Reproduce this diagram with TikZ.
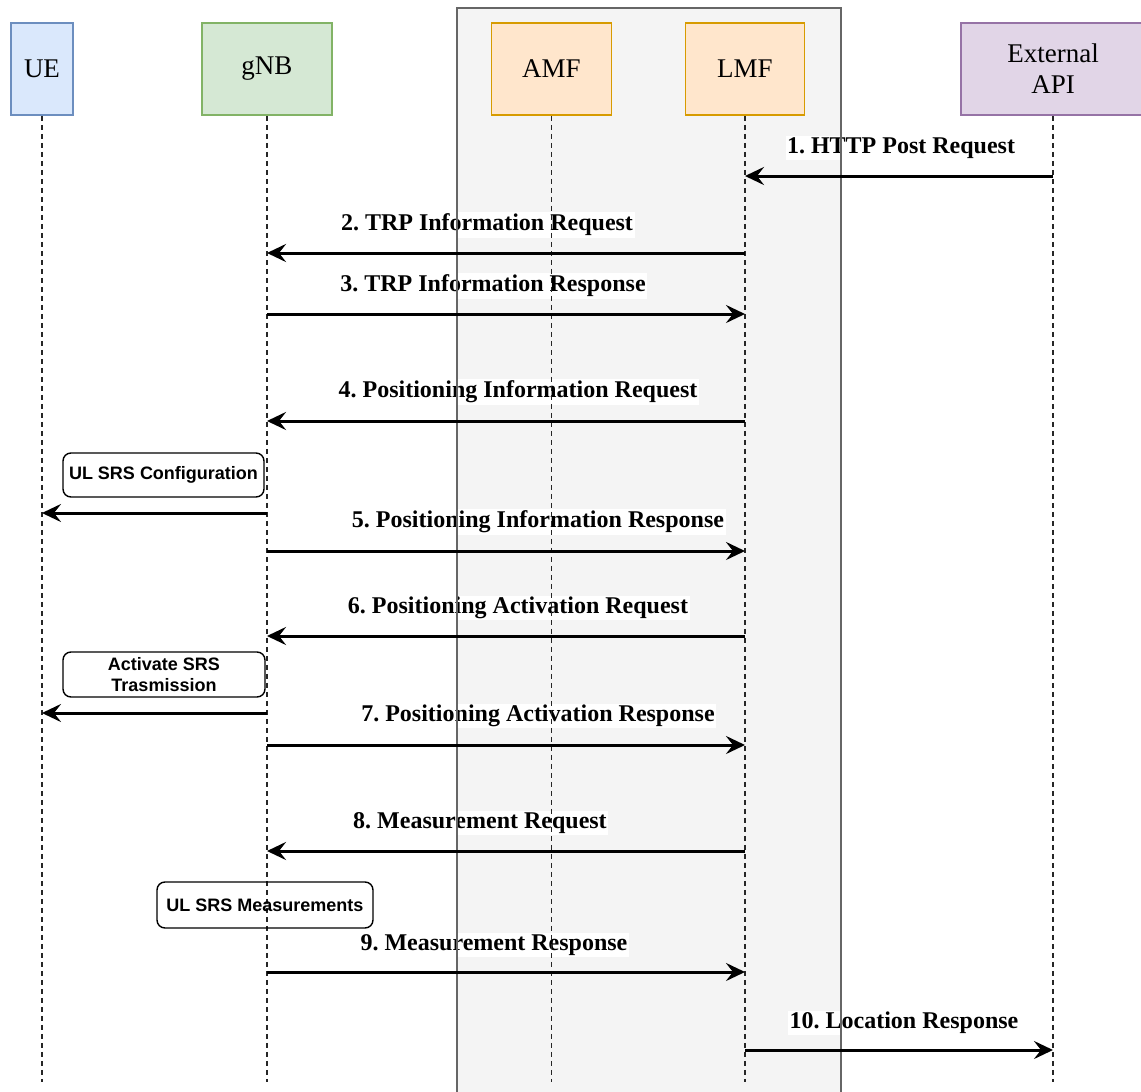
\documentclass[tikz,border=0pt]{standalone}
\usepackage{fontspec}
\setmainfont{Liberation Serif}
\newfontfamily\notefont{Liberation Sans}
\usetikzlibrary{arrows.meta}

\definecolor{uefill}{HTML}{DAE8FC}\definecolor{ueline}{HTML}{6C8EBF}
\definecolor{gnbfill}{HTML}{D5E8D4}\definecolor{gnbline}{HTML}{82B366}
\definecolor{corefill}{HTML}{FFE6CC}\definecolor{coreline}{HTML}{D79B00}
\definecolor{extfill}{HTML}{E1D5E7}\definecolor{extline}{HTML}{9673A6}
\definecolor{cloudfill}{HTML}{F4F4F4}\definecolor{cloudline}{HTML}{666666}

\tikzset{
  actor/.style={draw, line width=1.5pt, minimum height=92pt, inner sep=2pt,
    align=center, font=\fontsize{27}{31}\selectfont},
  lifeline/.style={line width=1.5pt, black!85, dash pattern=on 5pt off 4pt},
  msg/.style={line width=3pt, -{Stealth[length=19pt,width=18pt,inset=7pt]}},
  msglabel/.style={fill=white, inner sep=1.5pt, font=\bfseries\fontsize{24}{28}\selectfont},
  note/.style={draw, line width=1.4pt, rounded corners=8pt, align=center,
    inner sep=2pt, font=\notefont\bfseries\fontsize{18}{21}\selectfont}
}

\begin{document}
\frenchspacing
\begin{tikzpicture}[x=1pt,y=-1pt]
\useasboundingbox (0,0) rectangle (1141,1092);
\clip (0,0) rectangle (1141,1092);

% core network area
\fill[cloudfill] (457,8) rectangle (841,1100);

% participants
\node[actor, fill=uefill,   draw=ueline,   minimum width=62pt]  (ue)  at (42,69)   {UE};
\node[actor, fill=gnbfill,  draw=gnbline,  minimum width=130pt] (gnb) at (267,69)  {gNB};
\node[actor, fill=corefill, draw=coreline, minimum width=120pt] (amf) at (551.5,69) {AMF};
\node[actor, fill=corefill, draw=coreline, minimum width=119pt] (lmf) at (745,69)  {LMF};
\node[actor, fill=extfill,  draw=extline,  minimum width=184pt] (ext) at (1053,69) {External\\API};

% message labels
\node[msglabel] (t1)  at (901,148)  {1. HTTP Post Request};
\node[msglabel] (t2)  at (487,225)  {2. TRP Information Request};
\node[msglabel] (t3)  at (493,286)  {3. TRP Information Response};
\node[msglabel] (t4)  at (518,392)  {4. Positioning Information Request};
\node[msglabel] (t5)  at (538,522)  {5. Positioning Information Response};
\node[msglabel] (t6)  at (518,608)  {6. Positioning Activation Request};
\node[msglabel] (t7)  at (538,716)  {7. Positioning Activation Response};
\node[msglabel] (t8)  at (480,823)  {8. Measurement Request};
\node[msglabel] (t9)  at (494,945)  {9. Measurement Response};
\node[msglabel] (t10) at (904,1023) {10. Location Response};

% core network area border
\draw[cloudline, line width=1.5pt] (457,1100) -- (457,8) -- (841,8) -- (841,1100);

% lifelines
\coordinate (bottom) at (0,1082);
\foreach \p in {ue,gnb,amf,lmf,ext}
  \draw[lifeline] (\p.south) -- (\p.south |- bottom);

% notes on the gNB side
\node[note, minimum width=201pt, minimum height=44pt] (cfg)  at (163.5,475) {UL SRS Configuration};
\node[note, minimum width=202pt, minimum height=45pt] (act)  at (164,674.5) {Activate SRS\\Trasmission};
\node[note, minimum width=216pt, minimum height=46pt] (meas) at (265,905)   {UL SRS Measurements};

% message rows
\coordinate (y1) at (0,176);
\coordinate (y2) at (0,253);
\coordinate (y3) at (0,314);
\coordinate (y4) at (0,421);
\coordinate (ya) at (0,513);
\coordinate (y5) at (0,551);
\coordinate (y6) at (0,636);
\coordinate (yb) at (0,713);
\coordinate (y7) at (0,745);
\coordinate (y8) at (0,851);
\coordinate (y9) at (0,972);
\coordinate (y10) at (0,1050);

% messages
\draw[msg] (ext.south |- y1) -- (lmf.south |- y1);
\draw[msg] (lmf.south |- y2) -- (gnb.south |- y2);
\draw[msg] (gnb.south |- y3) -- (lmf.south |- y3);
\draw[msg] (lmf.south |- y4) -- (gnb.south |- y4);
\draw[msg] (gnb.south |- ya) -- (ue.south |- ya);
\draw[msg] (gnb.south |- y5) -- (lmf.south |- y5);
\draw[msg] (lmf.south |- y6) -- (gnb.south |- y6);
\draw[msg] (gnb.south |- yb) -- (ue.south |- yb);
\draw[msg] (gnb.south |- y7) -- (lmf.south |- y7);
\draw[msg] (lmf.south |- y8) -- (gnb.south |- y8);
\draw[msg] (gnb.south |- y9) -- (lmf.south |- y9);
\draw[msg] (lmf.south |- y10) -- (ext.south |- y10);
\end{tikzpicture}
\end{document}
